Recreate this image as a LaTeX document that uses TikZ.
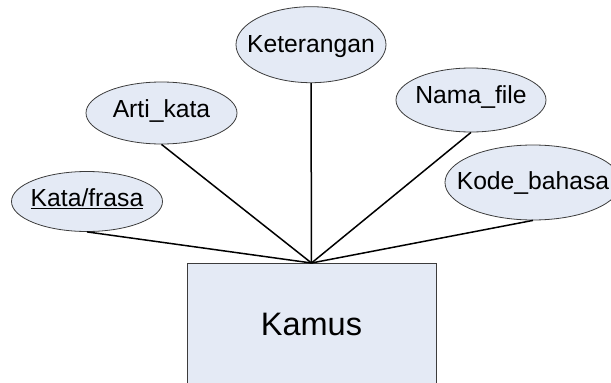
\documentclass[tikz,border=0pt]{standalone}
\usepackage{fontspec}
\setmainfont{Liberation Sans}
\usetikzlibrary{shapes.geometric}
\definecolor{attrfill}{RGB}{228,234,245}
\definecolor{edgegray}{RGB}{60,60,60}
\tikzset{
  attr/.style={ellipse, draw=edgegray, line width=0.8pt, fill=attrfill, inner sep=0pt},
  attrtext/.style={inner sep=0pt, font=\fontsize{24.7}{28}\selectfont},
  entitybox/.style={rectangle, draw=edgegray, line width=0.8pt, fill=attrfill, inner sep=0pt, minimum width=249pt, minimum height=150pt, anchor=north},
  conn/.style={draw=black, line width=1.5pt},
  bigtext/.style={inner sep=0pt, font=\fontsize{32.5}{36}\selectfont}
}
\begin{document}
\begin{tikzpicture}[x=1pt, y=-1pt]
\useasboundingbox (0,0) rectangle (611,383);
\clip (0,0) rectangle (611,383);
\node[entitybox] (kamus) at (311.5,263) {};
\node[bigtext] (kamuslabel) at (311.5,324) {Kamus};
\node[attr, minimum width=151pt, minimum height=60pt] (kata) at (87,201.5) {};
\node[attr, minimum width=151pt, minimum height=62pt] (arti) at (161.5,113) {};
\node[attr, minimum width=150pt, minimum height=76pt] (ket) at (311,44.7) {};
\node[attr, minimum width=150pt, minimum height=64pt] (nama) at (471,100) {};
\node[attr, minimum width=176pt, minimum height=75pt] (kode) at (533,182.5) {};
\node[attrtext] (katat) at (87,199) {\underline{Kata/frasa}};
\node[attrtext] (artit) at (161.5,111) {Arti\_kata};
\node[attrtext] (kett) at (311,47) {Keterangan};
\node[attrtext] (namat) at (471,97) {Nama\_file};
\node[attrtext] (kodet) at (533,183) {Kode\_bahasa};
\draw[conn] (kata.south) -- (kamus.north);
\draw[conn] (arti.south) -- (kamus.north);
\draw[conn] (ket.south) -- (kamus.north);
\draw[conn] (nama.south) -- (kamus.north);
\draw[conn] (kode.south) -- (kamus.north);
\end{tikzpicture}
\end{document}
